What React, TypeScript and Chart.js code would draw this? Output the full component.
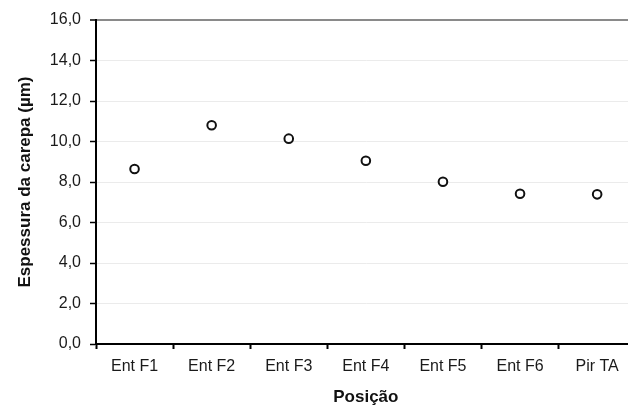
import React, { useEffect, useRef } from "react";
import { Chart, registerables } from "chart.js";

Chart.register(...registerables);

const categories = ["Ent F1", "Ent F2", "Ent F3", "Ent F4", "Ent F5", "Ent F6", "Pir TA"];
const espessura = [8.64, 10.8, 10.14, 9.05, 8.01, 7.42, 7.39];
const yMin = 0;
const yMax = 16;
const yStep = 2;

export default function App() {
  const ref = useRef<HTMLCanvasElement | null>(null);

  useEffect(() => {
    if (!ref.current) return;
    const chart = new Chart(ref.current, {
      type: "line",
      data: {
        labels: categories,
        datasets: [
          {
            data: espessura,
            showLine: false,
            pointStyle: "circle",
            pointRadius: 4.3,
            pointBorderWidth: 2,
            pointBorderColor: "#111",
            pointBackgroundColor: "#fff",
            borderColor: "#111",
            backgroundColor: "#fff",
          },
        ],
      },
      options: {
        responsive: false,
        animation: false,
        devicePixelRatio: 1,
        layout: { padding: { top: 20, right: 2, bottom: 0, left: 0 } },
        plugins: { legend: { display: false }, tooltip: { enabled: false } },
        scales: {
          x: {
            type: "category",
            offset: true,
            afterFit: (s: any) => {
              s.height = 63;
            },
            grid: {
              offset: true,
              drawOnChartArea: false,
              drawTicks: true,
              tickLength: 5,
              tickColor: "#000",
              tickWidth: 2,
              color: "#000",
            },
            border: { display: true, color: "#000", width: 2 },
            ticks: {
              padding: 8,
              color: "#1a1a1a",
              font: { family: "Arial, 'Liberation Sans'", size: 16 },
              maxRotation: 0,
              autoSkip: false,
            },
            title: {
              display: true,
              text: "Posição",
              color: "#111",
              font: { family: "Arial, 'Liberation Sans'", size: 17, weight: "bold" },
              padding: { top: 4, bottom: -1 },
            },
          },
          y: {
            min: yMin,
            max: yMax,
            afterFit: (s: any) => {
              s.width = 96;
            },
            ticks: {
              stepSize: yStep,
              padding: 9,
              color: "#1a1a1a",
              font: { family: "Arial, 'Liberation Sans'", size: 16 },
              callback: (v: any) => Number(v).toFixed(1).replace(".", ","),
            },
            grid: {
              color: (c: any) => (c.tick && c.tick.value === yMax ? "#8a8a8a" : "#ebebeb"),
              lineWidth: (c: any) => (c.tick && c.tick.value === yMax ? 2 : 1),
              drawTicks: true,
              tickLength: 6,
              tickColor: "#000",
              tickWidth: 1.5,
            },
            border: { display: true, color: "#000", width: 2 },
            title: {
              display: true,
              text: "Espessura da carepa (µm)",
              color: "#111",
              font: { family: "Arial, 'Liberation Sans'", size: 17, weight: "bold" },
              padding: { top: 15, bottom: 0 },
            },
          },
        },
      },
    });
    return () => chart.destroy();
  }, []);

  return (
    <div
      style={{
        position: "fixed",
        left: 0,
        top: 0,
        width: 628,
        height: 405,
        overflow: "hidden",
        background: "#fff",
      }}
    >
      <canvas ref={ref} width={642} height={407} style={{ display: "block" }} />
    </div>
  );
}
